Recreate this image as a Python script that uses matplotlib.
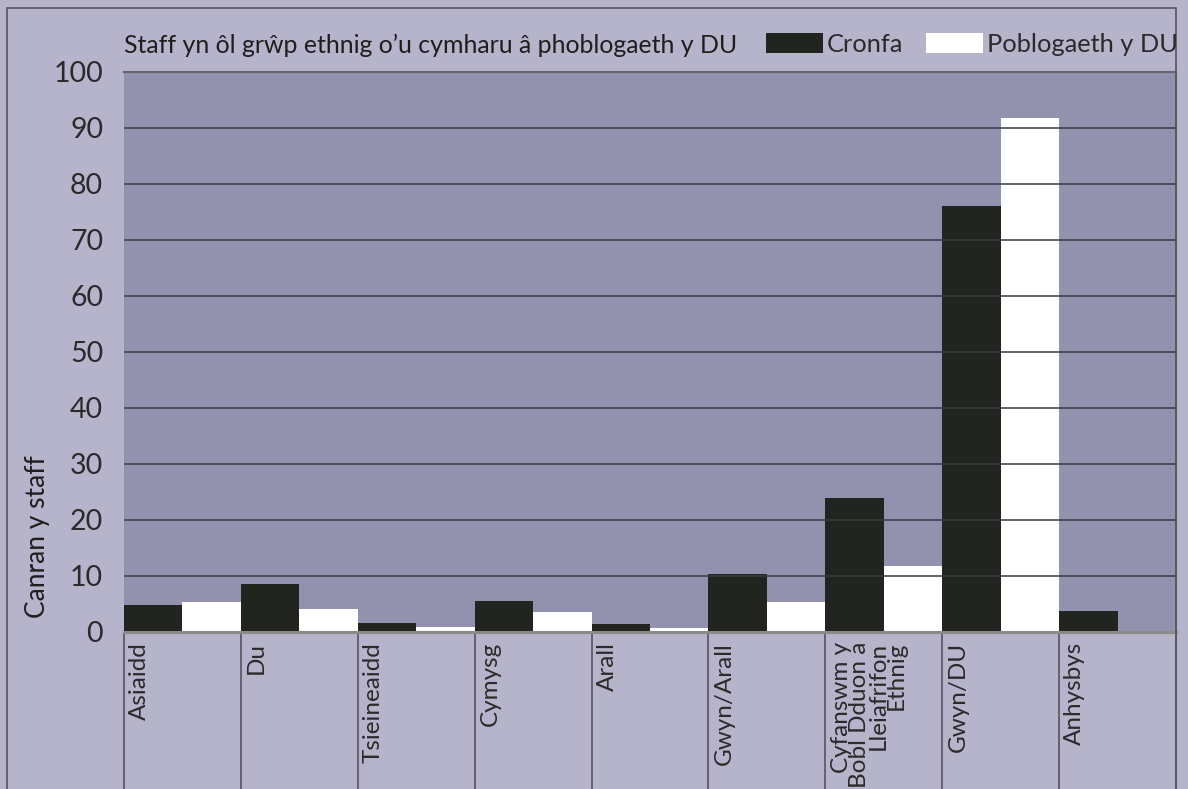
import numpy as np
import matplotlib.pyplot as plt
from matplotlib.patches import Patch, Rectangle

# data
categories = ['Asiaidd', 'Du', 'Tsieineaidd', 'Cymysg', 'Arall', 'Gwyn/Arall',
              'Cyfanswm y\nBobl Dduon a\nLleiafrifon\nEthnig', 'Gwyn/DU', 'Anhysbys']
cronfa = [4.8, 8.6, 1.6, 5.5, 1.4, 10.3, 23.9, 76.1, 3.8]
poblogaeth = [5.4, 4.1, 0.9, 3.6, 0.7, 5.4, 11.8, 91.7, 0.0]
yticks = list(range(0, 101, 10))

outer_bg = '#b6b4cb'
plot_bg = '#9291ae'
bar_dark = '#21241f'
font = 'Lato'

plt.rcParams['font.family'] = [font, 'DejaVu Sans']

fig = plt.figure(figsize=(11.88, 7.89), dpi=100, facecolor=outer_bg)
ax = fig.add_axes([124/1188, 1 - 632/789, (1176 - 124)/1188, 560/789])
ax.set_facecolor(plot_bg)

x = np.arange(len(categories))
w = 0.5
ax.bar(x - w/2, cronfa, width=w, color=bar_dark, zorder=2)
ax.bar(x + w/2, poblogaeth, width=w, color='white', zorder=2)

ax.set_xlim(-0.5, len(categories) - 0.5)
ax.set_ylim(0, 100)
ax.set_yticks(yticks)
ax.set_yticklabels([str(t) for t in yticks], fontsize=20.5, color='#2a2a2a')
ax.tick_params(axis='y', length=0, pad=15)
ax.set_xticks([])

for t in yticks[1:-1]:
    ax.axhline(t, color='#3a3a44', lw=1.1, zorder=3)

for s in ['left', 'bottom']:
    ax.spines[s].set_visible(False)
ax.spines['top'].set_color('#66656f')
ax.spines['top'].set_linewidth(1.5)
ax.spines['right'].set_color('#66656f')
ax.spines['right'].set_linewidth(1.2)
ax.axhline(0, color='#8a8a8a', lw=2.2, zorder=4, clip_on=False)

# separators and labels below the axis
xt = ax.get_xaxis_transform()
ax.vlines(np.arange(len(categories) + 1) - 0.5, -0.3, 0, transform=xt,
          color='#55555c', lw=1.2, clip_on=False)
for i, lab in enumerate(categories):
    ax.text(i - 0.5 + 0.045, -0.018, lab, transform=xt, rotation=90,
            ha='left', va='top', multialignment='right', fontsize=17.5,
            color='#2a2a2a', linespacing=0.85)

# outer frame
fig.patches.append(Rectangle((7/1188, -0.05), (1176 - 7)/1188, 1.05 - 8/789,
                             transform=fig.transFigure, fill=False,
                             edgecolor='#55555c', lw=1.2))

fig.text(124/1188, 1 - 45/789, 'Staff yn ôl grŵp ethnig o\u2019u cymharu â phoblogaeth y DU',
         fontsize=17.9, va='center', ha='left', color='#1e1e1e')
fig.text(38/1188, 1 - 537/789, 'Canran y staff', rotation=90, fontsize=19,
         va='center', ha='center', color='#1e1e1e')

handles = [Patch(facecolor=bar_dark, edgecolor='none', label='Cronfa'),
           Patch(facecolor='white', edgecolor='none', label='Poblogaeth y DU')]
leg = fig.legend(handles=handles, loc='center right', ncol=2, frameon=False,
                 bbox_to_anchor=(1178/1188, 1 - 44/789), fontsize=18.3,
                 handlelength=2.25, handleheight=0.85, handletextpad=0.15,
                 columnspacing=0.9, borderaxespad=0, borderpad=0)
for t in leg.get_texts():
    t.set_color('#2a2a2a')

fig.savefig('out.png', dpi=100, facecolor=outer_bg)
